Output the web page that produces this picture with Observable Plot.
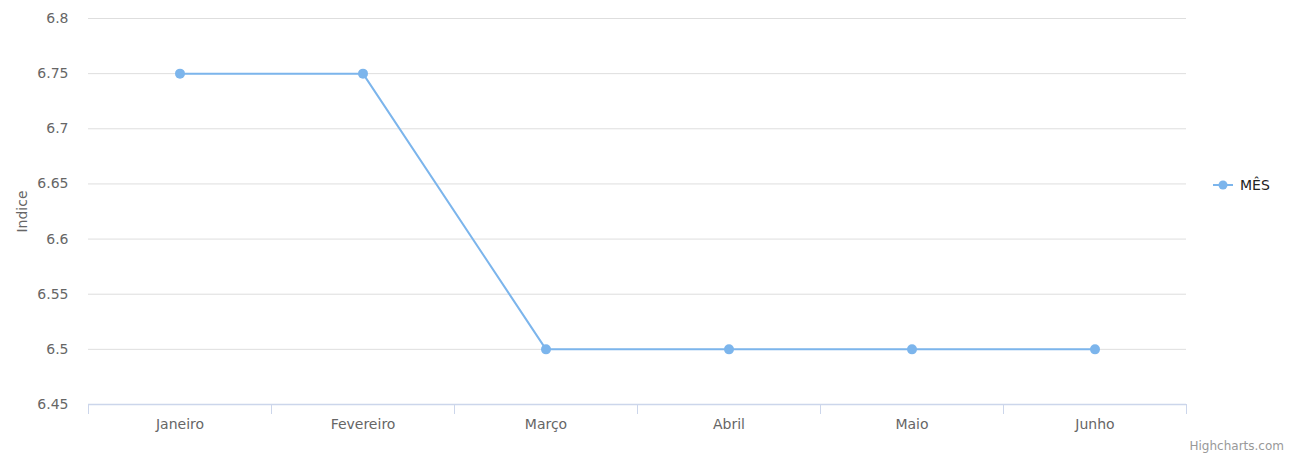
<!DOCTYPE html>
<html>
<head>
<meta charset="utf-8">
<script src="https://cdn.jsdelivr.net/npm/d3@7"></script>
<script src="https://cdn.jsdelivr.net/npm/@observablehq/plot@0.6"></script>
<style>
  body { margin: 0; background: #fff; font-family: "DejaVu Sans", sans-serif; }
  #wrap { position: relative; width: 1291px; height: 459px; }
  #legend { position: absolute; left: 1212px; top: 177px; display: flex; align-items: center; font-size: 14px; color: #222; }
  #legend span { margin-left: 6px; }
  #credit { position: absolute; right: 7px; top: 439px; font-size: 12px; color: #999; }
</style>
</head>
<body>
<div id="wrap">
  <div id="chart"></div>
  <div id="legend">
    <svg width="22" height="12"><line x1="1" x2="21" y1="6" y2="6" stroke="#7cb5ec" stroke-width="2"/><circle cx="11" cy="6" r="4.5" fill="#7cb5ec"/></svg>
    <span>MÊS</span>
  </div>
  <div id="credit">Highcharts.com</div>
</div>
<script>
const months = ["Janeiro", "Fevereiro", "Março", "Abril", "Maio", "Junho"];
const values = [6.75, 6.75, 6.5, 6.5, 6.5, 6.5];
const yTicks = [6.45, 6.5, 6.55, 6.6, 6.65, 6.7, 6.75, 6.8];
const seriesName = "MÊS";
const yTitle = "Indice";

const data = months.map((m, i) => ({month: m, idx: i + 0.5, value: values[i]}));
const edges = d3.range(months.length + 1);
const centers = months.map((m, i) => i + 0.5);
const color = "#7cb5ec";

const chart = Plot.plot({
  width: 1291,
  height: 459,
  marginLeft: 88,
  marginRight: 105,
  marginTop: 18,
  marginBottom: 55,
  style: {fontFamily: "DejaVu Sans, sans-serif", fontSize: "14px", color: "#666", background: "#fff"},
  x: {type: "linear", domain: [0, months.length]},
  y: {domain: [6.45, 6.8]},
  marks: [
    Plot.ruleY(yTicks.slice(1), {stroke: "#dedede", strokeWidth: 1, strokeOpacity: 1}),
    Plot.ruleY([6.45], {stroke: "#ccd6eb", strokeWidth: 1.5}),
    Plot.axisX({ticks: edges, tickSize: 10, tickFormat: () => "", stroke: "#ccd6eb", strokeOpacity: 1, label: null}),
    Plot.axisX({ticks: centers, tickSize: 0, tickPadding: 15, tickFormat: d => months[Math.round(d - 0.5)], fill: "#666", fontSize: 14, label: null}),
    Plot.axisY({ticks: yTicks, tickSize: 0, tickPadding: 20, tickFormat: d => String(+d.toFixed(2)), fill: "#666", fontSize: 14,
      label: yTitle, labelAnchor: "center", labelArrow: "none", labelOffset: 71}),
    Plot.line(data, {x: "idx", y: "value", stroke: color, strokeWidth: 2}),
    Plot.dot(data, {x: "idx", y: "value", r: 5, fill: color, stroke: "none", title: d => `${seriesName}: ${d.value}`})
  ]
});
document.getElementById("chart").appendChild(chart);
const lbl = chart.querySelectorAll("g[aria-label='y-axis label'] text");
lbl.forEach(t => { t.setAttribute("font-size", "14"); t.setAttribute("fill", "#666"); });
</script>
</body>
</html>
